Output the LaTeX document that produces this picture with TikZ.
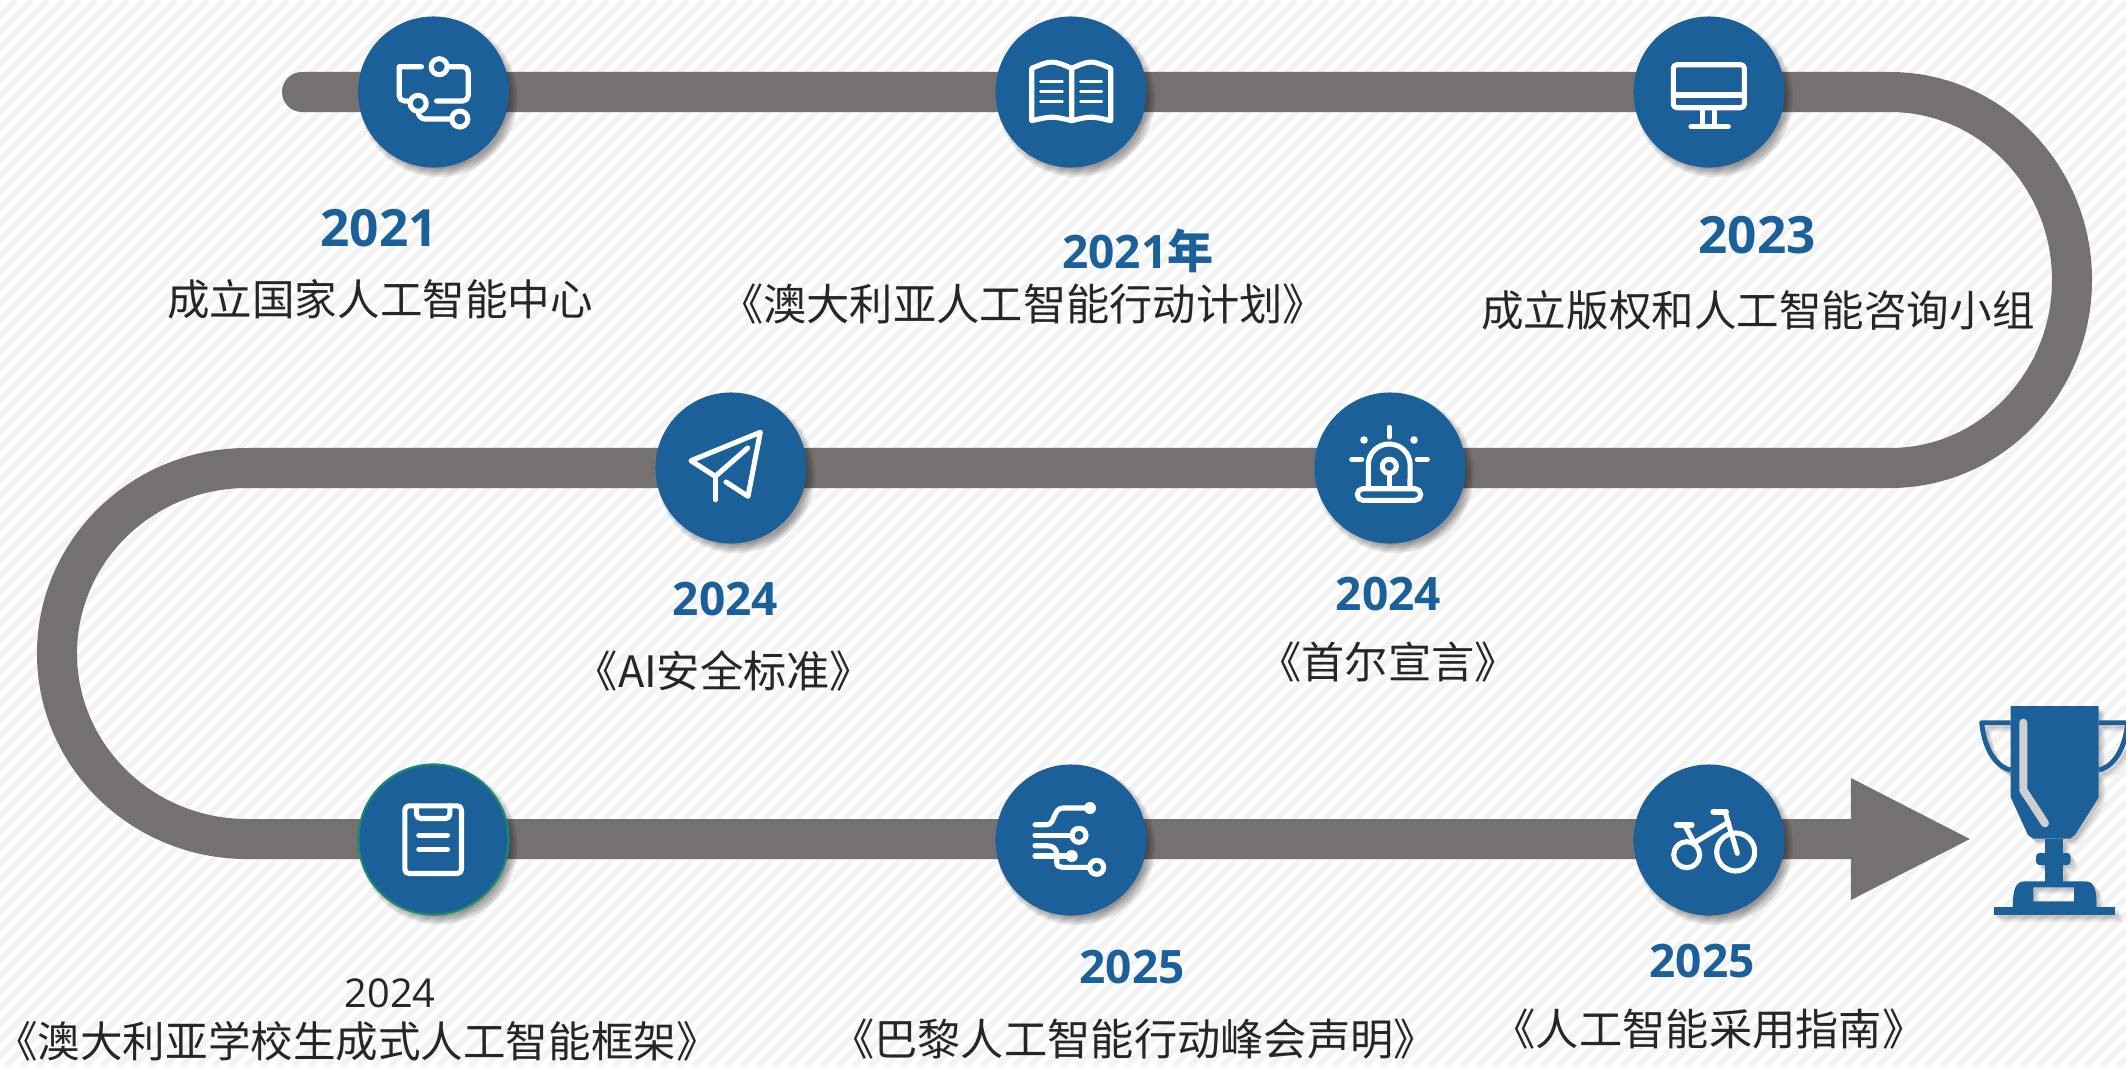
\documentclass[tikz,border=0pt]{standalone}
\usepackage{fontspec}
\setmainfont{Open Sans}
\newfontfamily\cjk{Noto Sans CJK SC}
\usetikzlibrary{arrows.meta}
\definecolor{stepblue}{HTML}{1C6099}
\definecolor{trackgray}{HTML}{767171}
\definecolor{stripegray}{HTML}{F3F3F3}
\definecolor{ringgreen}{HTML}{1A8A6E}
\definecolor{textdark}{HTML}{262626}
\tikzset{
  track/.style={draw=trackgray,line width=0.4cm,line cap=round,line join=round},
  stepdot/.style={shape=circle,fill=stepblue,minimum size=1.51cm,inner sep=0pt},
  icon/.style={draw=white,line width=1.45pt,line cap=round,line join=round},
  thinicon/.style={icon,line width=0.85pt},
  yearlabel/.style={inner sep=0pt,text=stepblue,font=\fontsize{14.6}{16}\selectfont\bfseries},
  yearsmall/.style={yearlabel,font=\fontsize{13.1}{16}\selectfont\bfseries},
  textlabel/.style={inner sep=0pt,text=textdark,font=\fontsize{12.1}{15}\selectfont\cjk},
  textsmall/.style={textlabel,font=\fontsize{12.3}{15}\selectfont\cjk}
}
\newcommand{\trophypaths}{
\fill (2010.7,706) -- (2098.7,706) -- (2098.7,797.3) -- (2075,835) -- (2070,838.7) -- (2033.3,838.7) -- (2028,835) -- (2010.7,797.3) -- cycle;
\fill (2045.3,838.7) rectangle (2063.3,882);
\fill[rounded corners=1pt] (2036,853) rectangle (2070.7,865);
\fill[even odd rule] (2012.7,907.3) .. controls (2013,890) and (2015,881.3) .. (2025,881.3) -- (2085,881.3) .. controls (2095,881.3) and (2096.5,890) .. (2096.7,907.3) -- cycle (2033.3,887.3) rectangle (2074,901.3);
\fill (1993.7,907.3) rectangle (2115.3,915.3);
\draw[line width=1.4pt,line join=round] (2010.7,722.7) -- (1981.7,722.7) .. controls (1985,755) and (2000,768) .. (2010.7,770);
\draw[line width=1.4pt,line join=round] (2098.7,722.7) -- (2127.7,722.7) .. controls (2124.4,755) and (2109.4,768) .. (2098.7,770);
}

\begin{document}
\begin{tikzpicture}[x=0.01cm,y=-0.01cm]

\useasboundingbox (0,0) rectangle (2126,1066);
\fill[white] (0,0) rectangle (2126,1066);
\begin{scope}
\clip (0,0) rectangle (2126,1066);
\foreach \n in {0,...,200}
  \draw[stripegray,line width=1.6pt] (16*\n,0) -- (16*\n-1066,1066);
\end{scope}

\coordinate (trackstart) at (302,92);
\coordinate (bend1) at (1890,92);
\coordinate (bend2) at (247,468);
\coordinate (tracktip) at (1973,839);

\draw[track,-{Triangle[length=1.22cm,width=1.12cm]}] (trackstart) -- (bend1)
  arc[start angle=-90,end angle=90,x radius=182,y radius=188] -- (bend2)
  arc[start angle=-90,end angle=-270,x radius=190,y radius=185.5] -- (tracktip);

\foreach \cx/\cy in {433.5/92,1071/92,1709/92,1390/468,731/468,433.5/839.5,1071/840,1709/840}
  \foreach \rad in {71,73,75,77,79}
    \fill[black,opacity=0.09] (\cx+5,\cy+6) circle[radius=\rad];

\node[stepdot] (step1) at (433.5,92) {};
\node[stepdot] (step2) at (1071,92) {};
\node[stepdot] (step3) at (1709,92) {};
\node[stepdot] (step4) at (1390,468) {};
\node[stepdot] (step5) at (731,468) {};
\node[stepdot,draw=ringgreen,line width=0.6pt,minimum size=1.5cm] (step6) at (433.5,839.5) {};
\node[stepdot] (step7) at (1071,840) {};
\node[stepdot] (step8) at (1709,840) {};

\begin{scope}[shift={(step1.center)}]
\draw[icon] (-12,-25.3) -- (-34.3,-25.3) [rounded corners=1.5pt] -- (-34.3,9) -- (-25,9);
\draw[icon,rounded corners=1.5pt] (14.7,-25.3) -- (34.7,-25.3) -- (34.7,9) -- (3,9);
\draw[icon,rounded corners=2pt] (-15.3,20.7) -- (-15.3,27) -- (18,27);
\draw[icon] (5.7,-25.3) circle[radius=8];
\draw[icon] (-15.3,11.3) circle[radius=8];
\draw[icon] (26.3,27) circle[radius=8];
\end{scope}

\begin{scope}[shift={(step2.center)}]
\draw[icon] (0.7,-23.7) .. controls (-19,-32) .. (-39.3,-23.7) -- (-39.3,28.7) .. controls (-19,24) .. (0.7,28.7) -- cycle;
\draw[icon] (0.7,-23.7) .. controls (20,-32) .. (39.7,-23.7) -- (39.7,28.7) .. controls (20,24) .. (0.7,28.7);
\foreach \ly in {-10.3,-0.3,9} {
  \draw[thinicon] (-30.3,\ly) -- (-8.7,\ly);
  \draw[thinicon] (9.7,\ly) -- (30.7,\ly);
}
\end{scope}

\begin{scope}[shift={(step3.center)}]
\draw[icon,rounded corners=1pt] (-35.7,-27.3) rectangle (35.3,15.7);
\draw[icon] (-35.7,3) -- (35.3,3);
\draw[icon] (-6.3,16) -- (-6.3,34);
\draw[icon] (5.3,16) -- (5.3,34);
\draw[icon] (-18,34.7) -- (19.3,34.7);
\end{scope}

\begin{scope}[shift={(step4.center)}]
\draw[icon] (-21.7,20) -- (-21.7,-3.3) arc[start angle=180,end angle=360,x radius=20.9,y radius=20.7] -- (20,20);
\draw[icon] (-0.7,-1.7) circle[radius=7];
\draw[icon] (-0.7,5.3) -- (-0.7,18);
\draw[icon,rounded corners=1.6pt] (-32.7,20.7) rectangle (30.7,32.3);
\draw[icon] (-0.7,-40.7) -- (-0.7,-31);
\fill[white] (-26,-28) circle[radius=3.8];
\fill[white] (24,-28) circle[radius=3.8];
\draw[icon] (-38.3,-8.3) -- (-28.3,-8.3);
\draw[icon] (27.3,-8.3) -- (37.3,-8.3);
\end{scope}

\begin{scope}[shift={(step5.center)}]
\draw[icon] (-5,14) -- (17,28.3) -- (29.3,-35.7) -- (-40,-7.3) -- (-15.7,8.3) -- (16.7,-20);
\draw[icon] (-15.7,8.3) -- (-15.7,31.7);
\end{scope}

\begin{scope}[shift={(step6.center)}]
\draw[icon,rounded corners=1.2pt] (-28.7,-33.7) rectangle (28,34);
\draw[icon,rounded corners=1.2pt] (-17,-33.7) -- (-17,-21) -- (16.3,-21) -- (16.3,-33.7);
\draw[icon] (-14.7,-4.3) -- (14,-4.3);
\draw[icon] (-14.7,9.7) -- (14,9.7);
\end{scope}

\begin{scope}[shift={(step7.center)}]
\draw[icon] (-36,-15.3) -- (-24,-15.3) .. controls (-16,-15.3) and (-18,-32) .. (-8,-32) -- (19,-32);
\fill[white] (19,-32) circle[radius=6];
\draw[icon] (-36,-4.7) -- (1,-4.7);
\draw[icon] (8,-4.7) circle[radius=7];
\draw[icon] (-36,5.7) -- (-24,5.7) .. controls (-18,5.7) and (-14.3,9) .. (-14.3,14) -- (-14.3,22) .. controls (-14.3,26) and (-12,27.3) .. (-9,27.3) -- (18,27.3);
\draw[icon] (25.7,27.3) circle[radius=7];
\draw[icon] (-36,16) -- (0.7,16);
\fill[white] (0.7,16) circle[radius=6];
\end{scope}

\begin{scope}[shift={(step8.center)}]
\draw[icon] (-22.3,14.7) circle[radius=13];
\draw[icon] (26.7,12) circle[radius=19];
\draw[icon,line width=1.7pt] (-32.3,-15) -- (-17.3,-15);
\draw[icon] (-24,-14.3) -- (-14,4);
\draw[icon] (-14,2.3) -- (19.3,-17.7);
\draw[icon] (16,-28.3) -- (28.3,13.3);
\draw[icon,line width=1.7pt] (4.3,-28.3) -- (17,-28.3);
\end{scope}

\foreach \off/\op in {7/0.05,5/0.08,3/0.1} {
  \begin{scope}[shift={(\off,\off)},opacity=\op,transparency group,black,draw=black,fill=black]
  \trophypaths
  \end{scope}
}
\begin{scope}[draw=stepblue,fill=stepblue]
\trophypaths
\end{scope}
\draw[draw=stripegray!85!black,line width=2.3pt,line cap=round,line join=round] (2023.3,722.7) -- (2023.3,790) -- (2045,823.3);

\node[yearlabel] (year1) at (379,228) {2021};
\node[textlabel] (text1) at (380,299) {成立国家人工智能中心};
\node[yearsmall] (year2) at (1138,251) {2021\cjk 年};
\node[textsmall] (text2) at (1023,304) {《澳大利亚人工智能行动计划》};
\node[yearlabel] (year3) at (1757,235) {2023};
\node[textlabel] (text3) at (1758,310) {成立版权和人工智能咨询小组};
\node[yearsmall] (year4) at (725.5,599) {2024};
\node[textsmall] (text4) at (724,671) {《AI安全标准》};
\node[yearsmall] (year5) at (1388.5,594) {2024};
\node[textsmall] (text5) at (1388,662) {《首尔宣言》};
\node[inner sep=0pt,text=textdark,font=\fontsize{11.3}{15}\selectfont] (year6) at (390,993) {2024};
\node[textlabel] (text6) at (357,1041) {《澳大利亚学校生成式人工智能框架》};
\node[yearsmall] (year7) at (1132,967) {2025};
\node[textsmall] (text7) at (1134,1039) {《巴黎人工智能行动峰会声明》};
\node[yearsmall] (year8) at (1702,961) {2025};
\node[textsmall] (text8) at (1709,1029) {《人工智能采用指南》};

\end{tikzpicture}
\end{document}
